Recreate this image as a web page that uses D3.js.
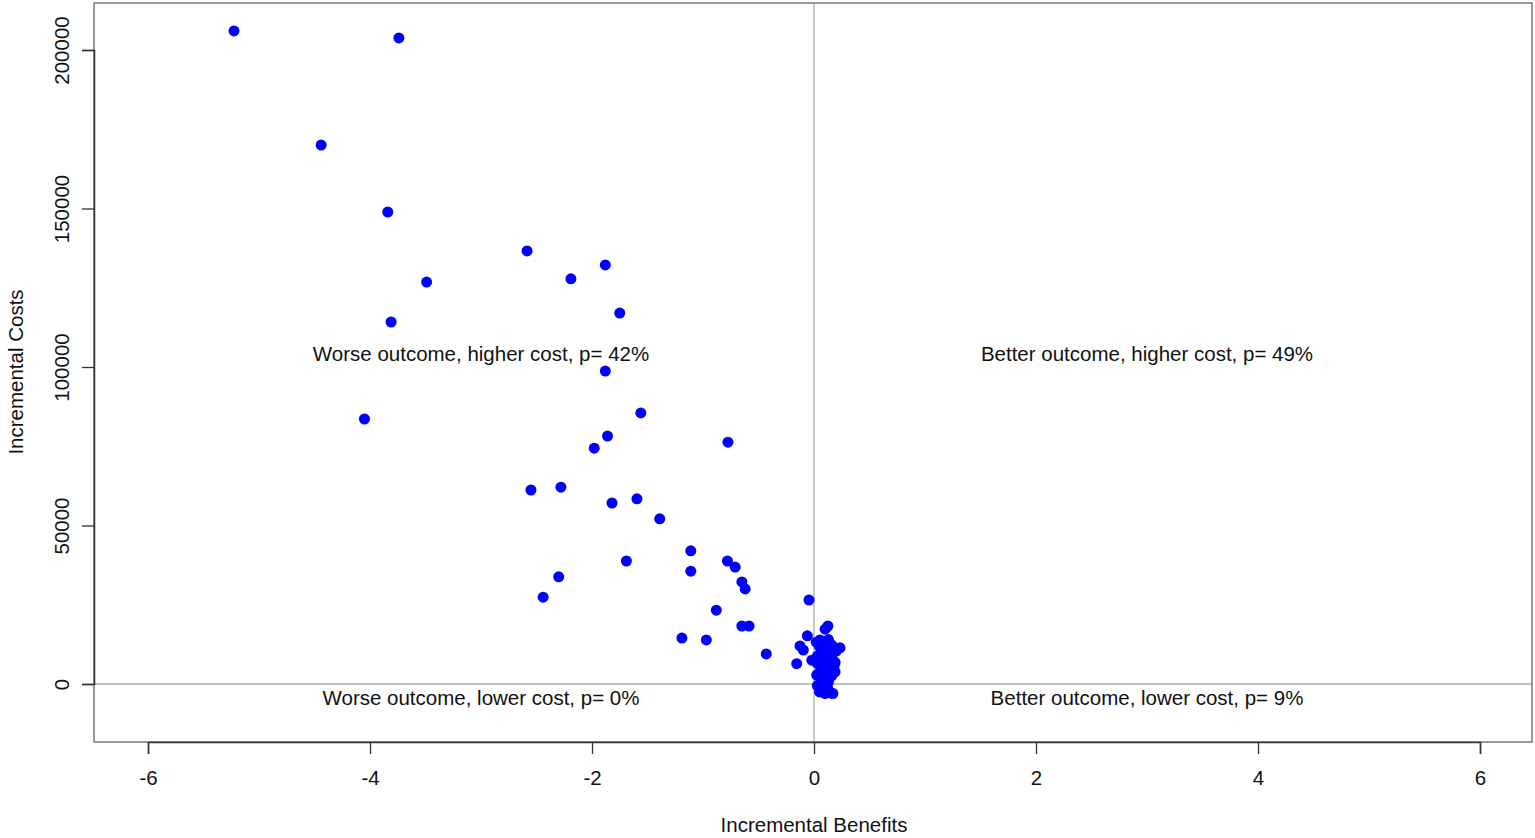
<!DOCTYPE html>
<html><head><meta charset="utf-8">
<script src="https://cdn.jsdelivr.net/npm/d3@7"></script>
<style>body{margin:0;background:#fff;} text{font-family:"Liberation Sans",Arial,sans-serif;fill:#111;}</style>
</head><body><svg id="c" width="1535" height="838"></svg>
<script>
const benefits = [-5.225,-3.74,-4.44,-3.84,-2.585,-1.88,-2.19,-3.49,-1.75,-3.81,-1.88,-1.56,-4.05,-1.86,-0.775,-1.98,-2.28,-2.55,-1.595,-1.82,-1.39,-1.11,-0.78,-1.69,-0.71,-1.11,-2.30,-0.65,-0.62,-2.44,-0.045,-0.88,-0.65,-0.585,-1.19,-0.97,-0.43,-0.156,-0.06,-0.126,-0.096,-0.02,
 0.125,0.10,0.054,0.16,0.234,0.17,0.19,0.024,0.10,0.054,0.054,0.13,0.08,0.027,0.04,0.07,0.09,0.11,0.14,0.15,0.06,0.03,0.12,0.18,0.20,0.16,0.05,0.08,0.11,0.13,0.17,0.04,0.09,0.14,0.02,0.07,0.12,0.15,0.19,0.06,0.10,0.03,0.08,0.13,0.16,0.05,0.11,0.09,0.14,
 0.03,0.05,0.08,0.10,0.12,0.15,0.17,0.06,0.13];
const costs = [206000,203800,170000,148900,136600,132200,127800,126800,117000,114200,98700,85500,83600,78200,76300,74400,62100,61200,58400,57100,52100,42000,38800,38800,36900,35600,33800,32200,30000,27400,26500,23300,18300,18300,14500,13900,9500,6400,15200,12000,10700,7500,
 18300,17300,13900,12300,11400,7600,3800,2800,11400,9100,6000,5000,1900,6600,12800,10200,8200,4200,9800,6400,4500,8800,2200,5500,10400,2600,3300,7200,1200,600,11000,8700,1500,3600,13200,9400,7900,2900,6800,3100,4800,8400,900,14000,5900,11800,2100,6200,9600,
 -500,-2500,-1500,-3000,-800,-2800,-3000,-1200,-2000];
const xTicks = [-6,-4,-2,0,2,4,6];
const yTicks = [0,50000,100000,150000,200000];
const quadrantLabels = ["Worse outcome, higher cost, p= 42%","Better outcome, higher cost, p= 49%","Worse outcome, lower cost, p= 0%","Better outcome, lower cost, p= 9%"];
const labelX = [-3,3,-3,3];
const labelY = [104000,104000,-4400,-4400];
const xTitle = "Incremental Benefits", yTitle = "Incremental Costs";

const FS = 20.5;
const svg = d3.select("#c");
const L=94,R=1532,T=3,B=742;
const x = d3.scaleLinear().domain([-6,6]).range([148,1480]);
const y = d3.scaleLinear().domain([0,200000]).range([684,50]);

svg.append("line").attr("x1",x(0)).attr("x2",x(0)).attr("y1",T).attr("y2",B).attr("stroke","#aaa").attr("stroke-width",1.3);
svg.append("line").attr("x1",L).attr("x2",R).attr("y1",y(0)).attr("y2",y(0)).attr("stroke","#aaa").attr("stroke-width",1.3);

svg.append("g").selectAll("circle").data(benefits.map((b,i)=>[b,costs[i]])).join("circle")
  .attr("cx",d=>x(d[0])).attr("cy",d=>y(d[1])).attr("r",5.5).attr("fill","#0000ff");

svg.append("rect").attr("x",L).attr("y",T).attr("width",R-L).attr("height",B-T).attr("fill","none").attr("stroke","#777").attr("stroke-width",1.5);

const fmt = d => String(d);
const xa = svg.append("g").attr("transform",`translate(0,${B})`).call(d3.axisBottom(x).tickValues(xTicks).tickSize(12).tickPadding(16).tickFormat(fmt));
xa.select(".domain").attr("stroke","#333").attr("stroke-width",1.5);
xa.selectAll(".tick line").attr("stroke","#333").attr("stroke-width",1.3);
xa.selectAll("text").attr("font-size",FS).style("font-family","Liberation Sans, Arial, sans-serif").attr("fill","#111");
const ya = svg.append("g").attr("transform",`translate(${L},0)`).call(d3.axisLeft(y).tickValues(yTicks).tickSize(12).tickFormat(fmt));
ya.select(".domain").attr("stroke","#333").attr("stroke-width",1.5);
ya.selectAll(".tick line").attr("stroke","#333").attr("stroke-width",1.3);
ya.selectAll("text").attr("font-size",FS).style("font-family","Liberation Sans, Arial, sans-serif").attr("fill","#111")
  .attr("transform","rotate(-90)").attr("x",0).attr("y",-32).attr("dy","0.35em").attr("text-anchor","middle");

svg.append("g").selectAll("text").data(quadrantLabels).join("text")
  .attr("x",(d,i)=>x(labelX[i])).attr("y",(d,i)=>y(labelY[i])).attr("dy","0.35em")
  .attr("text-anchor","middle").attr("font-size",FS).text(d=>d);

svg.append("text").attr("x",x(0)).attr("y",825).attr("dy","0.35em").attr("text-anchor","middle").attr("font-size",FS).text(xTitle);
svg.append("text").attr("transform",`translate(16,${y(100000)+5}) rotate(-90)`).attr("dy","0.35em").attr("text-anchor","middle").attr("font-size",FS).text(yTitle);
</script></body></html>
